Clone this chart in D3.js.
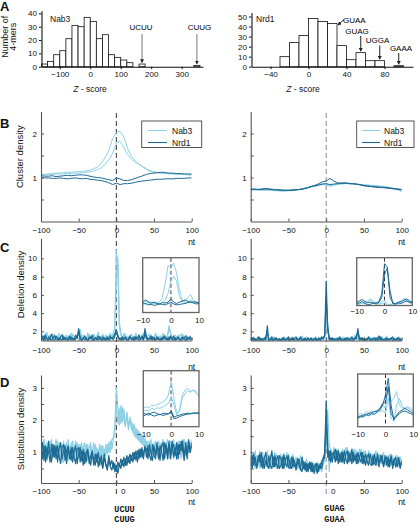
<!DOCTYPE html>
<html><head><meta charset="utf-8">
<script src="https://cdn.jsdelivr.net/npm/d3@7"></script>
<style>body{margin:0;background:#fff;}</style>
</head><body>
<script>
// ---------- DATA ----------
// Panel A histograms (bin left edges, counts)
const nab3Bins = [-160,-140,-120,-100,-80,-60,-40,-20,0,20,40,60,80,100,120,160,340];
const nab3Counts = [2,4,9,12,21,31,30,37,34,21,24,9,7,5,3,2,1];
const nrd1Bins = [-30,-20,-10,0,10,20,30,40,50,60,70,90];
const nrd1Counts = [10,24,31,48,45,43,21,7,14,6,6,1];
const nab3Annot = ["UCUU","CUUG"], nab3AnnotZ = [170,350];
const nrd1Annot = ["GUAA","GUAG","UGGA","GAAA"], nrd1AnnotZ = [30,55,75,95];

// positions (nt)
const posB = d3.range(-100, 101, 5);
const posMain = d3.range(-100, 101, 2);
const posInset = d3.range(-10, 11, 1);

// Panel B: cluster density
const clusterLeftNab3a = [1.08,1.07,1.08,1.09,1.1,1.1,1.11,1.12,1.12,1.13,1.13,1.14,1.15,1.17,1.2,1.24,1.32,1.45,1.62,1.88,2.02,2.05,1.92,1.66,1.48,1.38,1.3,1.24,1.18,1.14,1.12,1.11,1.1,1.1,1.09,1.09,1.08,1.08,1.07,1.07,1.06];
const clusterLeftNab3b = [1.06,1.06,1.07,1.07,1.08,1.08,1.08,1.09,1.09,1.1,1.1,1.11,1.12,1.13,1.15,1.18,1.22,1.3,1.4,1.55,1.78,1.82,1.68,1.52,1.42,1.35,1.3,1.25,1.2,1.16,1.13,1.11,1.1,1.09,1.08,1.08,1.07,1.07,1.07,1.06,1.06];
const clusterLeftNrd1a = [1.04,1.03,1.03,1.04,1.02,1.03,1.04,1.05,1.04,1.05,1.06,1.06,1.05,1.03,1.01,1.0,0.99,0.97,0.95,0.93,0.99,0.97,0.93,0.93,0.95,0.98,1.01,1.04,1.07,1.09,1.1,1.11,1.12,1.11,1.1,1.1,1.09,1.09,1.08,1.08,1.08];
const clusterLeftNrd1b = [1.0,0.99,0.99,0.98,0.98,0.99,0.98,0.97,0.98,0.99,0.98,0.97,0.98,0.96,0.95,0.94,0.93,0.91,0.88,0.84,0.87,0.84,0.86,0.86,0.87,0.89,0.91,0.92,0.93,0.94,0.95,0.96,0.96,0.97,0.97,0.97,0.98,0.98,0.98,0.99,0.99];
const clusterRightNab3a = [0.73,0.72,0.73,0.72,0.72,0.71,0.71,0.71,0.7,0.7,0.7,0.71,0.72,0.73,0.75,0.77,0.79,0.82,0.84,0.86,0.85,0.82,0.84,0.86,0.87,0.87,0.86,0.85,0.85,0.84,0.83,0.83,0.82,0.82,0.81,0.8,0.79,0.77,0.75,0.72,0.68];
const clusterRightNab3b = [0.72,0.72,0.72,0.71,0.71,0.71,0.7,0.7,0.69,0.69,0.7,0.7,0.71,0.72,0.74,0.76,0.78,0.8,0.82,0.84,0.83,0.8,0.82,0.84,0.85,0.86,0.86,0.85,0.84,0.84,0.83,0.82,0.81,0.8,0.79,0.78,0.77,0.76,0.74,0.72,0.7];
const clusterRightNrd1a = [0.72,0.73,0.72,0.73,0.74,0.73,0.72,0.72,0.71,0.71,0.71,0.71,0.72,0.73,0.74,0.76,0.79,0.82,0.86,0.9,0.92,0.98,0.92,0.88,0.87,0.88,0.87,0.86,0.85,0.84,0.82,0.81,0.8,0.79,0.78,0.78,0.77,0.76,0.75,0.74,0.73];
const clusterRightNrd1b = [0.74,0.74,0.73,0.74,0.75,0.74,0.73,0.72,0.72,0.71,0.71,0.72,0.72,0.73,0.75,0.77,0.8,0.81,0.83,0.85,0.86,0.84,0.85,0.86,0.87,0.87,0.86,0.86,0.85,0.83,0.81,0.8,0.79,0.78,0.77,0.77,0.76,0.75,0.74,0.73,0.72];

// Panel C: deletion density
const delLeftNab3a = [1.2,1.6,1.1,1.4,1.9,1.3,1.0,1.5,1.7,1.2, 1.4,1.1,1.8,1.3,1.0,1.6,1.2,0.9,1.5,1.3, 1.1,1.7,1.4,1.2,1.5,2.0,1.3,1.1,1.6,1.4, 1.2,1.8,1.0,1.5,1.3,1.7,1.1,1.4,1.9,1.2, 1.5,1.3,1.1,1.6,1.4,1.2,1.8,1.5,1.7,2.6, 10.9,9.2,2.4,1.6,1.3,1.8,1.2,1.5,1.1,1.4, 1.7,1.2,1.0,1.5,1.3,1.6,1.1,1.4,1.8,1.3, 1.2,1.5,1.7,1.1,1.4,1.3,1.6,1.0,1.5,1.2, 1.4,1.8,1.3,1.1,1.6,2.4,1.7,1.2,1.5,1.3, 1.1,1.6,1.4,1.2,1.7,1.3,1.0,1.5,1.2,1.4, 1.3];
const delLeftNab3b = [1.4,1.1,1.5,1.8,1.2,1.0,1.6,1.3,1.1,1.7, 1.2,1.5,1.0,1.4,1.7,1.2,1.3,1.6,1.1,1.4, 1.8,1.2,1.0,1.5,1.3,1.6,2.2,1.4,1.2,1.5, 1.1,1.4,1.7,1.2,1.0,1.6,1.3,1.5,1.1,1.4, 1.3,1.7,1.2,1.4,1.0,1.6,1.3,1.2,1.9,2.1, 7.4,10.1,3.0,1.8,1.2,1.5,1.7,1.1,1.3,1.6, 1.2,1.5,1.3,1.8,1.1,1.4,1.2,1.6,1.3,2.0, 1.5,1.1,1.4,1.6,1.2,1.3,1.8,1.4,1.1,1.5, 1.3,1.2,1.6,1.4,1.5,2.6,1.8,1.3,1.1,1.6, 1.4,1.2,1.5,1.7,1.1,1.3,1.6,1.2,1.4,1.5, 1.2];
const delLeftNrd1a = [1.1,1.4,0.9,1.6,1.2,1.0,1.3,1.7,1.1,0.9, 1.5,1.2,1.0,1.4,1.6,1.1,1.3,0.8,1.2,1.5, 1.0,1.3,1.1,1.6,1.2,2.3,1.4,1.0,1.2,1.5, 1.1,0.9,1.4,1.2,1.6,1.0,1.3,1.1,1.5,1.2, 1.0,1.4,1.2,0.9,1.3,1.1,1.5,1.2,1.4,1.7, 2.2,1.6,1.2,1.0,1.4,1.1,1.3,0.9,1.2,1.5, 1.1,1.3,1.0,1.4,1.2,1.6,1.1,1.3,1.0,2.3, 1.4,1.1,1.2,1.5,1.0,1.3,1.1,1.4,1.2,0.9, 1.3,1.1,1.5,1.2,1.0,1.4,1.2,1.1,1.5,1.0, 1.2,1.4,1.1,0.9,1.3,1.2,1.5,1.0,1.3,1.1, 1.2];
const delLeftNrd1b = [1.0,1.2,1.5,1.1,0.9,1.4,1.2,1.0,1.3,1.5, 1.1,0.9,1.3,1.2,1.0,1.4,1.1,1.3,1.0,1.2, 1.4,1.1,0.9,1.2,1.5,1.8,1.2,1.0,1.3,1.1, 1.3,1.0,1.2,1.4,1.1,0.9,1.3,1.2,1.0,1.4, 1.2,1.0,1.3,1.1,1.4,1.0,1.2,1.3,1.1,1.5, 1.9,1.4,1.1,1.3,1.0,1.2,1.4,1.1,1.0,1.3, 1.2,1.0,1.4,1.1,1.3,1.0,1.2,1.5,1.1,1.7, 1.2,1.0,1.3,1.1,1.4,1.2,1.0,1.3,1.1,1.2, 1.0,1.4,1.2,1.1,1.3,1.0,1.5,1.2,1.0,1.3, 1.1,1.3,1.0,1.2,1.4,1.1,1.0,1.3,1.2,1.4, 1.1];
const delRightNab3a = [1.1,0.9,1.3,1.0,1.2,0.8,1.4,1.1,0.9,1.2, 1.0,1.3,0.9,1.1,1.2,0.8,1.0,1.3,1.1,0.9, 1.2,1.0,1.4,0.9,1.1,1.3,1.0,0.8,1.2,1.1, 0.9,1.3,1.0,1.2,1.5,1.0,1.1,0.9,1.3,1.0, 1.2,0.9,1.1,1.4,1.0,1.2,0.9,1.3,1.1,1.5, 3.6,2.0,1.1,0.9,1.2,1.0,1.3,0.9,1.1,1.2, 1.0,1.4,0.9,1.2,1.1,1.0,1.3,0.9,1.2,1.6, 1.1,1.9,1.2,1.0,1.3,0.9,1.1,1.2,1.0,1.4, 0.9,1.1,1.3,1.0,1.2,0.9,1.1,1.4,1.0,1.2, 1.5,0.9,1.1,1.2,1.0,1.3,0.9,1.2,1.0,1.1, 1.0];
const delRightNab3b = [1.0,1.2,1.4,0.9,1.1,1.3,1.0,0.8,1.2,1.1, 1.3,0.9,1.1,1.2,1.0,1.4,0.9,1.2,1.0,1.1, 0.9,1.2,1.0,1.3,1.1,0.9,1.2,1.0,1.4,1.1, 1.2,1.0,1.3,0.9,1.1,1.2,1.0,1.4,0.9,1.1, 1.0,1.3,1.1,0.9,1.2,1.0,1.3,1.1,1.0,1.2, 2.8,2.6,1.3,1.0,1.1,1.2,0.9,1.3,1.0,1.1, 1.2,1.0,1.3,1.1,0.9,1.4,1.2,1.0,1.1,1.3, 1.0,1.2,1.5,1.1,0.9,1.2,1.0,1.3,1.1,1.0, 1.2,1.3,1.0,1.1,1.4,1.0,1.2,0.9,1.1,1.3, 1.0,1.2,1.1,1.3,0.9,1.1,1.2,1.0,1.4,1.1, 0.9];
const delRightNrd1a = [1.2,1.0,1.3,0.9,1.1,1.4,1.0,1.2,0.9,1.3, 1.1,2.6,1.0,1.2,1.4,0.9,1.1,1.3,1.0,1.2, 0.9,1.1,1.3,1.0,1.2,1.1,0.9,1.3,1.0,1.2, 1.4,1.0,1.1,1.3,0.9,1.2,1.0,1.1,1.3,1.0, 1.2,0.9,1.1,1.3,1.0,1.2,1.1,1.4,1.2,1.6, 7.5,2.2,1.2,1.0,1.3,0.9,1.1,1.2,1.0,1.4, 1.1,0.9,1.2,1.0,1.3,1.1,1.2,0.9,1.1,1.3, 1.2,2.3,1.0,1.1,1.3,0.9,1.2,1.0,1.4,1.1, 1.0,1.2,1.3,0.9,1.1,1.5,1.0,1.2,1.1,0.9, 1.3,1.1,1.0,1.2,1.4,1.0,1.1,1.3,0.9,1.2, 1.0];
const delRightNrd1b = [1.1,1.3,1.0,1.2,0.9,1.1,1.3,1.0,1.2,1.1, 1.4,1.8,1.1,0.9,1.2,1.0,1.3,1.1,0.9,1.2, 1.0,1.3,1.1,0.9,1.2,1.4,1.0,1.1,1.3,0.9, 1.1,1.2,1.0,1.4,1.1,0.9,1.3,1.0,1.2,1.1, 1.3,1.0,1.2,1.1,0.9,1.3,1.0,1.2,1.3,1.5, 5.6,2.6,1.1,1.3,1.0,1.2,1.1,0.9,1.3,1.0, 1.2,1.1,1.0,1.3,1.2,0.9,1.1,1.4,1.0,1.2, 1.5,2.0,1.1,1.3,1.0,1.2,0.9,1.1,1.3,1.0, 1.2,1.1,0.9,1.3,1.0,1.2,1.4,1.0,1.1,1.2, 0.9,1.2,1.1,1.3,1.0,1.2,0.9,1.1,1.3,1.0, 1.2];

// Panel D: substitution density
const subLeftNab3a = [1.5,1.05,1.4,0.8,1.3,0.95,1.35,0.75,1.25,1.1, 1.4,0.8,1.3,1.0,0.7,1.35,0.9,1.3,0.75,1.2, 0.95,1.35,0.75,1.2,1.3,0.85,1.25,0.7,1.15,1.3, 0.85,1.25,0.7,1.2,0.95,1.3,0.75,1.15,0.9,1.25, 0.85,1.2,0.8,1.25,0.95,1.3,1.0,1.4,1.45,1.8, 3.0,2.4,1.85,2.45,1.95,2.35,1.8,2.2,1.7,2.0, 1.95,1.6,1.85,1.45,1.7,1.35,1.6,1.25,1.5,1.15, 1.35,1.05,1.3,1.4,0.95,1.3,0.9,1.25,1.35,0.85, 1.25,1.4,0.9,1.3,1.05,0.8,1.35,0.95,1.4,0.9, 1.3,0.85,1.35,1.0,1.4,0.8,1.3,0.9,1.35,1.05, 1.4];
const subLeftNab3b = [1.3,0.9,1.4,1.1,0.75,1.3,1.0,1.4,0.85,1.2, 1.0,1.35,0.8,1.3,1.05,0.7,1.25,0.9,1.4,0.85, 1.3,0.8,1.15,1.35,0.75,1.25,0.9,1.3,0.7,1.1, 1.25,0.75,1.15,1.3,0.8,1.0,1.25,0.7,1.1,0.9, 1.2,0.75,1.1,0.9,1.25,1.0,1.35,1.1,1.4,1.55, 2.5,1.9,2.35,1.9,2.4,2.0,1.85,2.25,1.8,2.1, 1.7,1.9,1.5,1.75,1.4,1.65,1.3,1.55,1.2,1.45, 1.1,1.35,1.0,1.3,1.2,0.9,1.35,1.0,0.85,1.3, 1.0,1.35,0.85,1.25,1.4,0.9,1.2,1.35,0.8,1.25, 0.95,1.35,1.05,0.8,1.3,1.4,0.9,1.35,1.0,1.3, 1.15];
const subLeftNrd1a = [1.3,0.8,1.2,0.7,1.15,1.0,0.7,1.25,0.85,1.2, 0.8,1.2,0.9,0.65,1.15,1.25,0.75,1.05,1.2,0.8, 1.15,0.7,1.05,1.2,0.65,0.95,1.15,0.75,1.1,0.65, 1.0,1.1,0.65,0.9,1.05,0.6,0.95,0.7,1.0,0.6, 0.9,0.55,0.95,0.65,0.5,0.9,0.6,0.75,0.5,0.65, 0.4,0.7,0.55,0.8,0.6,0.85,0.6,0.9,0.7,0.95, 0.75,1.0,0.8,1.05,0.7,1.1,0.85,1.15,0.8,1.2, 0.85,1.2,0.9,0.75,1.25,0.9,0.8,1.25,1.1,0.75, 1.2,1.3,0.8,1.25,0.95,1.35,0.8,1.15,1.25,0.9, 1.3,0.8,1.25,1.05,1.35,0.85,1.2,0.8,1.3,1.0, 1.2];
const subLeftNrd1b = [1.0,1.3,0.75,1.2,0.8,1.35,0.95,0.7,1.25,0.85, 1.2,0.7,1.1,1.3,0.8,1.05,1.2,0.65,1.15,0.95, 0.75,1.15,0.85,0.65,1.1,1.15,0.7,1.05,0.6,1.0, 0.7,1.05,0.8,0.6,1.0,0.75,0.6,0.95,0.55,0.85, 0.7,0.5,0.85,0.6,0.45,0.8,0.55,0.45,0.7,0.4, 0.55,0.35,0.65,0.5,0.75,0.55,0.8,0.6,0.85,0.65, 0.9,0.7,1.0,0.75,1.05,0.8,1.1,0.85,1.0,1.15, 1.1,0.8,1.25,0.95,0.75,1.2,0.9,1.3,0.8,1.2, 1.05,0.75,1.3,1.1,0.8,1.25,0.95,1.35,0.85,1.15, 0.8,1.25,0.95,1.35,1.05,0.75,1.3,0.9,1.4,1.0, 1.3];
const subRightNab3a = [0.9,0.55,0.8,1.05,0.6,0.85,0.5,0.8,1.0,0.6, 0.8,1.05,0.55,0.9,0.65,0.8,1.0,0.5,0.85,0.65, 0.95,0.55,0.8,0.65,1.0,0.5,0.8,0.65,0.95,0.55, 0.7,0.85,0.5,0.9,0.6,0.75,0.45,0.75,0.55,0.7, 0.45,0.7,0.55,0.4,0.7,0.5,0.6,0.75,0.85,0.95, 1.9,2.3,1.25,1.05,0.8,1.15,0.75,1.1,0.7,1.0, 0.75,1.1,0.7,1.0,1.15,0.75,1.05,0.7,1.1,0.75, 1.05,0.7,1.1,0.8,0.7,1.05,0.75,0.65,1.05,0.7, 0.95,0.65,0.9,1.05,0.6,0.95,0.7,0.65,1.0,0.6, 0.9,0.65,0.95,0.6,0.9,0.65,0.6,0.9,0.55,0.85, 0.65];
const subRightNab3b = [0.6,0.95,0.7,0.5,0.9,0.6,1.05,0.7,0.55,0.9, 0.6,0.9,0.7,0.5,1.0,0.6,0.8,0.95,0.55,0.8, 0.6,0.9,0.5,0.85,0.6,0.95,0.55,0.85,0.5,0.75, 0.85,0.5,0.75,0.55,0.85,0.5,0.6,0.8,0.45,0.6, 0.55,0.4,0.65,0.45,0.4,0.65,0.5,0.4,0.6,0.75, 1.4,1.6,0.4,1.1,0.85,1.05,0.9,1.0,1.1,0.8, 1.05,0.75,1.0,1.15,0.75,1.05,0.7,1.0,0.8,1.1, 0.75,1.0,0.7,1.1,0.8,0.7,1.05,0.75,0.95,1.0, 0.7,0.95,0.65,0.85,1.0,0.65,0.9,0.95,0.6,0.85, 0.65,0.9,0.6,0.95,0.7,0.6,0.9,0.7,0.6,0.85, 0.6];
const subRightNrd1a = [0.85,0.5,0.95,0.65,0.55,0.9,0.7,1.0,0.5,0.8, 1.0,0.6,0.5,0.8,1.05,0.55,0.9,0.65,0.5,0.9, 0.8,0.5,0.95,0.65,0.55,0.9,0.6,0.5,0.85,0.6, 0.5,0.8,0.6,0.45,0.85,0.5,0.7,0.4,0.65,0.5, 0.7,0.4,0.55,0.65,0.35,0.6,0.5,0.7,0.8,1.0, 2.6,1.15,0.75,1.05,0.7,0.95,1.1,0.75,1.05,0.7, 1.0,0.7,1.05,0.8,0.65,1.0,0.75,1.1,0.7,0.9, 0.65,1.0,0.8,0.7,1.0,0.65,0.95,0.75,0.6,0.95, 0.75,0.6,0.95,0.65,0.9,0.55,0.9,0.7,0.6,0.9, 0.6,0.85,0.55,0.9,0.6,0.8,0.55,0.75,0.85,0.55, 0.75];
const subRightNrd1b = [0.55,0.9,0.6,0.85,0.5,0.75,0.95,0.55,0.85,0.5, 0.75,0.55,0.9,0.6,0.5,0.85,0.55,0.75,0.9,0.5, 0.6,0.85,0.5,0.75,0.9,0.55,0.5,0.85,0.55,0.75, 0.45,0.7,0.8,0.5,0.4,0.7,0.45,0.65,0.4,0.7, 0.4,0.65,0.35,0.6,0.65,0.4,0.65,0.5,0.75,0.85, 2.1,0.85,1.05,0.7,0.95,1.0,0.7,1.05,0.65,0.95, 0.7,1.0,0.65,0.95,1.05,0.7,0.95,0.65,1.0,0.75, 0.95,0.65,0.85,1.0,0.65,0.9,0.6,0.85,0.95,0.65, 0.6,0.9,0.65,0.6,0.95,0.6,0.8,0.9,0.55,0.8, 0.85,0.55,0.75,0.85,0.5,0.75,0.85,0.55,0.75,0.5, 0.7];

// Insets (-10..10 nt)
const delInLeftNab3a = [1.5,1.8,1.4,1.3,1.6,1.5,1.7,2.6,5.8,9.8,9.1,10.3,8.2,4.6,2.2,1.8,2.6,3.3,2.0,1.5,1.4];
const delInLeftNab3b = [1.3,1.2,1.5,1.6,1.3,1.4,1.2,1.5,2.0,3.6,6.2,7.4,6.4,3.0,1.8,1.5,1.6,2.0,1.5,1.6,1.3];
const delInLeftNrd1a = [1.6,2.1,1.7,1.4,1.6,1.3,1.2,1.5,1.4,1.6,2.3,1.6,1.3,1.6,1.8,2.1,1.8,1.5,1.7,1.6,1.5];
const delInLeftNrd1b = [1.2,1.3,1.0,1.1,0.9,1.0,1.2,1.1,1.0,1.3,1.6,1.2,1.0,1.1,1.2,1.3,1.5,1.7,1.4,1.2,1.3];
const delInRightNab3a = [1.0,1.2,1.1,1.3,1.5,1.8,1.4,1.2,1.1,1.3,1.6,1.0,0.9,1.1,1.0,1.2,1.5,1.9,1.6,1.3,1.2];
const delInRightNab3b = [0.9,1.0,1.2,1.1,1.3,1.6,1.3,1.1,1.0,1.1,1.2,0.8,0.9,1.0,1.1,1.0,1.3,1.6,1.4,1.2,1.0];
const delInRightNrd1a = [1.3,1.5,1.7,1.4,1.2,1.3,1.1,1.2,1.4,2.5,7.1,6.6,2.0,1.2,1.1,1.3,1.4,1.6,1.8,1.5,1.3];
const delInRightNrd1b = [1.1,1.2,1.4,1.1,0.9,1.0,1.2,1.0,1.3,2.0,5.5,6.4,3.0,1.1,1.0,1.2,1.1,1.3,1.5,1.3,1.2];
const subInLeftNab3a = [1.25,1.33,1.28,1.42,1.38,1.46,1.5,1.59,1.68,1.94,2.63,1.77,0.99,1.16,1.94,2.2,2.29,2.12,2.2,2.03,1.85];
const subInLeftNab3b = [1.08,1.16,1.11,1.25,1.2,1.28,1.25,1.33,1.42,1.5,1.85,1.42,0.91,1.08,1.77,2.03,2.15,2.08,2.2,2.12,1.98];
const subInLeftNrd1a = [1.0,0.95,0.9,1.02,1.05,0.97,0.92,0.98,1.0,0.95,1.12,0.8,0.86,0.9,0.95,0.97,1.0,0.98,1.02,1.0,1.03];
const subInLeftNrd1b = [0.85,0.92,1.0,0.9,0.85,0.9,0.95,0.88,0.92,0.98,1.05,0.72,0.75,0.82,0.88,0.92,0.95,0.97,0.99,1.0,0.98];
const subInRightNab3a = [0.89,0.98,0.93,1.07,1.03,1.1,1.07,1.15,1.24,1.41,1.24,2.27,1.58,1.76,2.1,1.41,1.24,1.27,1.33,1.24,1.15];
const subInRightNab3b = [0.73,0.78,0.81,0.86,0.93,0.9,0.98,1.02,1.07,1.15,0.98,1.76,0.73,0.56,1.41,1.76,1.33,1.24,1.27,1.15,1.07];
const subInRightNrd1a = [0.81,0.85,0.89,0.93,0.98,1.02,1.07,1.1,1.15,1.41,1.93,2.78,1.41,0.64,0.89,1.07,1.15,1.24,1.15,1.07,0.98];
const subInRightNrd1b = [0.73,0.81,0.81,0.93,0.86,0.98,0.93,1.07,1.24,1.5,1.58,2.35,0.98,0.73,0.81,0.98,1.07,1.1,1.03,0.98,0.89];

const mainTicks = [-100,-50,0,50,100];
const insetTicks = [-10,0,10];
const seriesNames = ["Nab3","Nrd1"];

// ---------- DRAWING ----------
const LIGHT = "#8dd0e6", DARK = "#1d6a93";
const FONT = "'Liberation Sans', Arial, Helvetica, sans-serif";
const AX = "#555";

const svg = d3.select("body").append("svg").attr("width",419).attr("height",527)
  .style("font-family", FONT);
const defs = svg.append("defs");
defs.append("marker").attr("id","ah").attr("viewBox","0 0 6 6").attr("refX",5).attr("refY",3)
  .attr("markerWidth",4).attr("markerHeight",4).attr("orient","auto")
  .append("path").attr("d","M0,0L6,3L0,6Z").attr("fill","#222");

function label(x, y, s, o = {}) {
  const t = svg.append("text").attr("x", x).attr("y", y).text(s)
    .attr("font-size", o.size || 8.5).attr("font-family", o.family || FONT)
    .attr("text-anchor", o.anchor || "start").attr("fill", o.fill || "#111");
  if (o.weight) t.attr("font-weight", o.weight);
  if (o.rotate) t.attr("transform", `rotate(-90,${x},${y})`);
  return t;
}
function styleAxis(g, color, fs) {
  g.selectAll(".domain").attr("stroke", color).attr("stroke-width", 1.1);
  g.selectAll(".tick line").attr("stroke", color);
  g.selectAll("text").attr("font-size", fs).attr("font-family", FONT).attr("fill", "#111");
}

// ----- Panel A -----
function histogram(o) {
  const x = d3.scaleLinear().domain(o.xDomain).range(o.xRange);
  const y = d3.scaleLinear().domain(o.yDomain).range(o.yRange);
  const g = svg.append("g");
  g.selectAll("rect").data(o.bins).join("rect")
    .attr("x", d => x(d)).attr("width", d => x(d + o.w) - x(d))
    .attr("y", (d, i) => y(o.counts[i])).attr("height", (d, i) => y(0) - y(o.counts[i]))
    .attr("fill", "#fff").attr("stroke", "#111").attr("stroke-width", 0.8);
  const ax = g.append("g").attr("transform", `translate(0,${y(0)})`)
    .call(d3.axisBottom(x).tickValues(o.xTicks).tickSize(2.5).tickSizeOuter(0).tickPadding(2).tickFormat(d3.format("d")));
  styleAxis(ax, "#111", 8);
  const ay = g.append("g").attr("transform", `translate(${o.xRange[0]},0)`)
    .call(d3.axisLeft(y).tickValues(o.yTicks).tickSize(2.5).tickSizeOuter(0).tickPadding(2));
  styleAxis(ay, "#111", 8);
  o.annot.forEach((a, i) => {
    const z = o.annotZ[i];
    const c = o.counts[o.bins.indexOf(z - o.w / 2)];
    const p = o.annotPos[i];
    svg.append("line").attr("x1", p.ax1 !== undefined ? p.ax1 : x(z)).attr("y1", p.ay1)
      .attr("x2", p.ax2 !== undefined ? p.ax2 : x(z)).attr("y2", p.ay2 !== undefined ? p.ay2 : y(c) - 1.5)
      .attr("stroke", o.arrowColor).attr("stroke-width", 1).attr("marker-end", "url(#ah)");
    label(p.tx, p.ty, a, { size: 8, anchor: p.anchor || "middle", fill: "#000" });
  });
  label(o.nameX, 21.5, o.name, { size: 8.5 });
  const zt = label(o.zX, 92, "", { size: 8.5, anchor: "middle" });
  zt.append("tspan").attr("font-style", "italic").text("Z");
  zt.append("tspan").text(" - score");
}
histogram({
  bins: nab3Bins, counts: nab3Counts, w: 20, xDomain: [-160, 370], xRange: [41.5, 203],
  yDomain: [0, 42], yRange: [66.7, 10.7], xTicks: [-100, 0, 100, 200, 300], yTicks: [0, 10, 20, 30, 40],
  annot: nab3Annot, annotZ: nab3AnnotZ, arrowColor: "#777",
  annotPos: [{ tx: 141, ty: 30, ay1: 34 }, { tx: 199.5, ty: 30, ay1: 34 }],
  name: "Nab3", nameX: 50, zX: 90
});
histogram({
  bins: nrd1Bins, counts: nrd1Counts, w: 10, xDomain: [-60, 110], xRange: [251.5, 413],
  yDomain: [0, 54], yRange: [66.7, 12.5], xTicks: [-40, 0, 40, 80], yTicks: [0, 10, 20, 30, 40, 50],
  annot: nrd1Annot, annotZ: nrd1AnnotZ, arrowColor: "#222",
  annotPos: [
    { tx: 343, ty: 22.5, anchor: "start", ax1: 344, ay1: 19.5, ax2: 338, ay2: 25 },
    { tx: 357, ty: 33.5, ay1: 36 },
    { tx: 377.5, ty: 43, ay1: 45.5 },
    { tx: 401, ty: 50.5, ay1: 53 }
  ],
  name: "Nrd1", nameX: 256, zX: 303
});
label(8, 36.7, "Number of", { size: 9, anchor: "middle", rotate: true });
label(16.5, 36.7, "4-mers", { size: 9, anchor: "middle", rotate: true });

// ----- main panels -----
function mainPanel(o) {
  const x = d3.scaleLinear().domain([-100, 100]).range(o.xRange);
  const y = d3.scaleLinear().domain(o.yDomain).range(o.yRange);
  const id = "clip" + o.id;
  defs.append("clipPath").attr("id", id).append("rect")
    .attr("x", o.xRange[0]).attr("y", o.yRange[1] - 2)
    .attr("width", o.xRange[1] - o.xRange[0]).attr("height", o.yRange[0] - o.yRange[1] + 2);
  const g = svg.append("g");
  const line = d3.line().x((d, i) => x(o.pos[i])).y(d => y(d));
  g.append("g").attr("clip-path", `url(#${id})`).selectAll("path").data(o.series).join("path")
    .attr("d", s => line(s.values)).attr("fill", "none").attr("stroke", s => s.color)
    .attr("stroke-width", o.sw || 1).attr("stroke-linejoin", "round");
  const ay = g.append("g").attr("transform", `translate(${o.xRange[0]},0)`)
    .call(d3.axisLeft(y).tickValues(o.yTicks).tickSizeInner(-3).tickSizeOuter(0).tickPadding(4)
      .tickFormat(d => Number.isInteger(d) ? d : ""));
  styleAxis(ay, AX, 8);
  const ax = g.append("g").attr("transform", `translate(0,${o.yRange[0]})`)
    .call(d3.axisBottom(x).tickValues(mainTicks).tickSizeInner(-3).tickSizeOuter(0).tickPadding(o.xPad)
      .tickFormat(d3.format("d")));
  styleAxis(ax, AX, 8);
  if (o.zeroShift) ax.selectAll(".tick").filter(d => d === 0).select("text").attr("x", o.zeroShift);
  label(o.xRange[1], o.ntY, "nt", { size: 8.5, anchor: "middle" });
  return { x, y };
}

function inset(o) {
  const x = d3.scaleLinear().domain([-10, 10]).range([o.box[0], o.box[2]]);
  const y = d3.scaleLinear().domain(o.yDomain).range([o.box[3], o.box[1]]);
  const id = "clip" + o.id;
  defs.append("clipPath").attr("id", id).append("rect")
    .attr("x", o.box[0]).attr("y", o.box[1]).attr("width", o.box[2] - o.box[0]).attr("height", o.box[3] - o.box[1]);
  const g = svg.append("g");
  g.append("rect").attr("x", o.box[0]).attr("y", o.box[1]).attr("width", o.box[2] - o.box[0])
    .attr("height", o.box[3] - o.box[1]).attr("fill", "#fff");
  g.append("line").attr("x1", x(0)).attr("x2", x(0)).attr("y1", o.box[1]).attr("y2", o.box[3])
    .attr("stroke", o.dashColor).attr("stroke-width", o.dashW).attr("stroke-dasharray", "4,2.5");
  const line = d3.line().x((d, i) => x(posInset[i])).y(d => y(d));
  g.append("g").attr("clip-path", `url(#${id})`).selectAll("path").data(o.series).join("path")
    .attr("d", s => line(s.values)).attr("fill", "none").attr("stroke", s => s.color).attr("stroke-width", 1);
  g.append("rect").attr("x", o.box[0]).attr("y", o.box[1]).attr("width", o.box[2] - o.box[0])
    .attr("height", o.box[3] - o.box[1]).attr("fill", "none").attr("stroke", "#666").attr("stroke-width", 1.3);
  const ax = g.append("g").attr("transform", `translate(0,${o.box[3]})`)
    .call(d3.axisBottom(x).tickValues(insetTicks).tickSize(0).tickPadding(o.pad).tickFormat(d3.format("d")));
  ax.select(".domain").remove();
  styleAxis(ax, AX, 8);
}

function legend(bx, by, bw, bh, lx1, lx2, tx) {
  svg.append("rect").attr("x", bx).attr("y", by).attr("width", bw).attr("height", bh)
    .attr("fill", "#fff").attr("stroke", "#444").attr("stroke-width", 0.9);
  [LIGHT, DARK].forEach((c, i) => {
    const yy = by + 9.5 + i * 12;
    svg.append("line").attr("x1", lx1).attr("x2", lx2).attr("y1", yy).attr("y2", yy).attr("stroke", c).attr("stroke-width", 1.1);
    label(tx, yy + 3, seriesNames[i], { size: 8.5 });
  });
}

const L = [41, 191.7], R = [250.7, 401.7];
const ser = (a, b, c, d) => [
  { values: a, color: LIGHT }, { values: b, color: LIGHT },
  { values: c, color: DARK }, { values: d, color: DARK }];

const xl = d3.scaleLinear().domain([-100, 100]).range(L);
const xr = d3.scaleLinear().domain([-100, 100]).range(R);
svg.append("line").attr("x1", xl(0)).attr("x2", xl(0)).attr("y1", 113).attr("y2", 496)
  .attr("stroke", "#333").attr("stroke-width", 1).attr("stroke-dasharray", "5,3");
svg.append("line").attr("x1", xr(0)).attr("x2", xr(0)).attr("y1", 113).attr("y2", 496)
  .attr("stroke", "#888").attr("stroke-width", 1).attr("stroke-dasharray", "5,3");

// B
mainPanel({ id: "bl", xRange: L, yDomain: [0, 2.5], yRange: [221.5, 111.5], yTicks: [0.5, 1, 1.5, 2],
  pos: posB, series: ser(clusterLeftNab3a, clusterLeftNab3b, clusterLeftNrd1a, clusterLeftNrd1b), xPad: 5.5, ntY: 245 });
mainPanel({ id: "br", xRange: R, yDomain: [0, 2.5], yRange: [221.5, 111.5], yTicks: [0.5, 1, 1.5, 2],
  pos: posB, series: ser(clusterRightNab3a, clusterRightNab3b, clusterRightNrd1a, clusterRightNrd1b), xPad: 5.5, ntY: 244.5 });
legend(141.7, 121, 60, 26.5, 148, 167, 172);
legend(356.7, 121, 57.3, 26.5, 362, 380, 384);

// C
mainPanel({ id: "cl", xRange: L, yDomain: [1, 12.2], yRange: [340.5, 238.3], yTicks: [2, 4, 6, 8, 10],
  pos: posMain, series: ser(delLeftNab3a, delLeftNab3b, delLeftNrd1a, delLeftNrd1b), xPad: 6.5, ntY: 370, sw: 1.2 });
mainPanel({ id: "cr", xRange: R, yDomain: [1, 12.2], yRange: [340.5, 238.3], yTicks: [2, 4, 6, 8, 10],
  pos: posMain, series: ser(delRightNab3a, delRightNab3b, delRightNrd1a, delRightNrd1b), xPad: 6.5, ntY: 369.5, sw: 1.2 });
inset({ id: "icl", box: [142.7, 257.7, 199, 312.5], yDomain: [-0.7, 11.5], dashColor: "#999", dashW: 2, pad: 4.5,
  series: ser(delInLeftNab3a, delInLeftNab3b, delInLeftNrd1a, delInLeftNrd1b) });
inset({ id: "icr", box: [356.7, 257.7, 412.3, 305.5], yDomain: [0.8, 8.0], dashColor: "#333", dashW: 1, pad: 3,
  series: ser(delInRightNab3a, delInRightNab3b, delInRightNrd1a, delInRightNrd1b) });

// D
mainPanel({ id: "dl", xRange: L, yDomain: [0.05, 3.4], yRange: [483, 375], yTicks: [0.5, 1, 1.5, 2, 2.5, 3],
  pos: posMain, series: ser(subLeftNab3a, subLeftNab3b, subLeftNrd1a, subLeftNrd1b), xPad: 5, ntY: 505, zeroShift: 6.5, sw: 1.2 });
mainPanel({ id: "dr", xRange: R, yDomain: [0.05, 3.4], yRange: [483, 375], yTicks: [0.5, 1, 1.5, 2, 2.5, 3],
  pos: posMain, series: ser(subRightNab3a, subRightNab3b, subRightNrd1a, subRightNrd1b), xPad: 5, ntY: 505, zeroShift: 6.5, sw: 1.2 });
inset({ id: "idl", box: [143.3, 370.7, 199, 426.7], yDomain: [0.3, 3.2], dashColor: "#999", dashW: 2, pad: 5,
  series: ser(subInLeftNab3a, subInLeftNab3b, subInLeftNrd1a, subInLeftNrd1b) });
inset({ id: "idr", box: [357.7, 374, 413.3, 426.7], yDomain: [0.3, 3.0], dashColor: "#333", dashW: 1, pad: 5,
  series: ser(subInRightNab3a, subInRightNab3b, subInRightNrd1a, subInRightNrd1b) });

// motif labels under D
const MONO = "'Liberation Mono', 'DejaVu Sans Mono', monospace";
label(124.5, 512, "UCUU", { size: 8.5, anchor: "middle", family: MONO, weight: "bold" });
label(124.5, 521.5, "CUUG", { size: 8.5, anchor: "middle", family: MONO, weight: "bold" });
label(334.5, 511, "GUAG", { size: 8.5, anchor: "middle", family: MONO, weight: "bold" });
label(334.5, 521.5, "GUAA", { size: 8.5, anchor: "middle", family: MONO, weight: "bold" });

// y-axis titles
label(23.5, 156.7, "Cluster density", { size: 9.5, anchor: "middle", rotate: true });
label(23.5, 284.5, "Deletion density", { size: 9.5, anchor: "middle", rotate: true });
label(23.5, 429, "Substitution density", { size: 9.5, anchor: "middle", rotate: true });

// panel letters
label(0, 10.5, "A", { size: 13, weight: "bold" });
label(0, 128, "B", { size: 13, weight: "bold" });
label(0, 252, "C", { size: 13, weight: "bold" });
label(0, 387, "D", { size: 13, weight: "bold" });
</script>
</body></html>
